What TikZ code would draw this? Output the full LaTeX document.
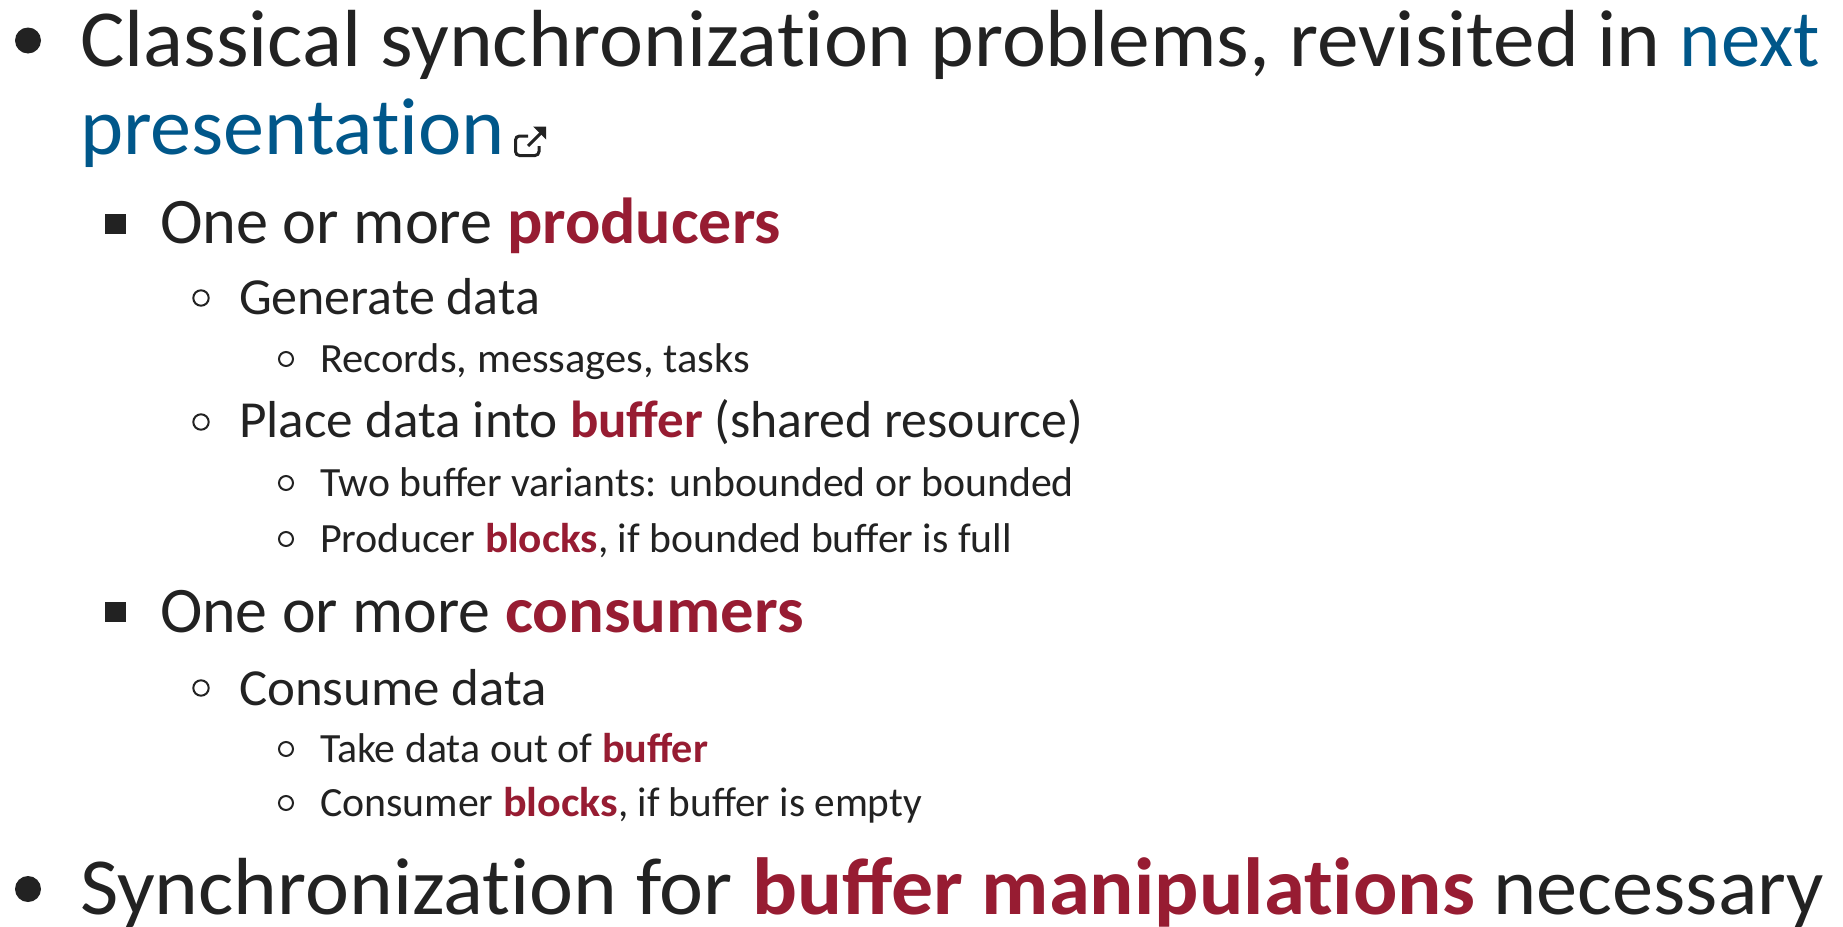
\documentclass[tikz,border=0pt]{standalone}
\usepackage{fontspec}
\setmainfont{Carlito}[Ligatures=Common]
\newfontfamily\plainlig{Carlito}[RawFeature={-liga}]
\definecolor{ink}{HTML}{222222}
\definecolor{linkblue}{HTML}{00578A}
\definecolor{hired}{HTML}{971C32}
\newsavebox{\fitbox}
\newcommand{\fitline}[2]{\sbox{\fitbox}{#2}\pgfmathsetmacro{\fitf}{#1/\the\wd\fitbox}\scalebox{\fitf}[1]{\usebox{\fitbox}}}
\newcommand{\hl}[1]{\textcolor{hired}{\textbf{#1}}}
\tikzset{
 x=1pt,y=-1pt,
 ln/.style={anchor=base west,inner sep=0pt,outer sep=0pt,text=ink},
 la/.style={ln,font=\fontsize{81}{81}\selectfont},
 lb/.style={ln,font=\fontsize{65}{65}\selectfont},
 lc/.style={ln,font=\fontsize{52}{52}\selectfont},
 ld/.style={ln,font=\fontsize{41.6}{41.6}\selectfont},
 dotbig/.style={fill=ink,draw=none},
 sq/.style={fill=ink,draw=none},
 ringc/.style={draw=ink,line width=2pt,fill=none},
 ringd/.style={draw=ink,line width=2pt,fill=none},
}
\begin{document}
\begin{tikzpicture}
\useasboundingbox (0,0) rectangle (1843,926);
\clip (0,0) rectangle (1843,926);
\fill[white] (0,0) rectangle (1843,926);
\node[la] (a1) at (80,66) {\fitline{1600}{\plainlig Classical synchronization problems, revisited in }\fitline{140}{\textcolor{linkblue}{next}}};
\node[la] (a2) at (80,154) {\fitline{425}{\plainlig\textcolor{linkblue}{presentation}}};
\node[lb] (b1) at (160,243) {\fitline{347}{One or more }\fitline{274}{\hl{producers}}};
\node[lc] (c1) at (239,314) {\fitline{301}{Generate data}};
\node[ld] (d1) at (320,372) {\fitline{430}{Records, messages, tasks}};
\node[lc] (c2) at (239,437) {\fitline{331}{Place data into }\fitline{133}{\hl{buffer}}\fitline{380}{ (shared resource)}};
\node[ld] (d2) at (320,496) {\fitline{754}{Two buffer variants: unbounded or bounded}};
\node[ld] (d3) at (320,552) {\fitline{165}{Producer }\fitline{113}{\hl{blocks}}\fitline{414}{, if bounded buffer is full}};
\node[lb] (b2) at (160,632) {\fitline{345}{One or more }\fitline{299}{\hl{consumers}}};
\node[lc] (c3) at (239,705) {\fitline{308}{Consume data}};
\node[ld] (d4) at (320,762) {\fitline{282}{Take data out of }\fitline{106}{\hl{buffer}}};
\node[ld] (d5) at (320,816) {\fitline{183}{Consumer }\fitline{115}{\hl{blocks}}\fitline{304}{, if buffer is empty}};
\node[la] (a3) at (80,914) {\fitline{672}{\plainlig Synchronization for }\fitline{211}{\hl{buffer}}\fitline{512}{\hl{\plainlig\ manipulations}}\fitline{349}{ necessary}};
% bullets
\fill[dotbig] (28,40.5) circle (13);
\fill[dotbig] (28,889) circle (13);
\fill[sq] (105,214) rectangle (126,234);
\fill[sq] (105,602) rectangle (126,622);
\foreach \py in {298,422,688}{\draw[ringc] (201,\py) circle (7.7);}
\foreach \py in {359,483,539,749,803}{\draw[ringd] (286,\py) circle (7);}
% external link icon
\draw[ink,line width=3pt,rounded corners=4pt] (528,136) -- (515.5,136) -- (515.5,155.5) -- (539,155.5) -- (539,146);
\draw[ink,line width=3pt] (528,146) -- (541,133);
\fill[ink] (533,126.5) -- (546,126.5) -- (546,139.5) -- cycle;
\end{tikzpicture}
\end{document}
